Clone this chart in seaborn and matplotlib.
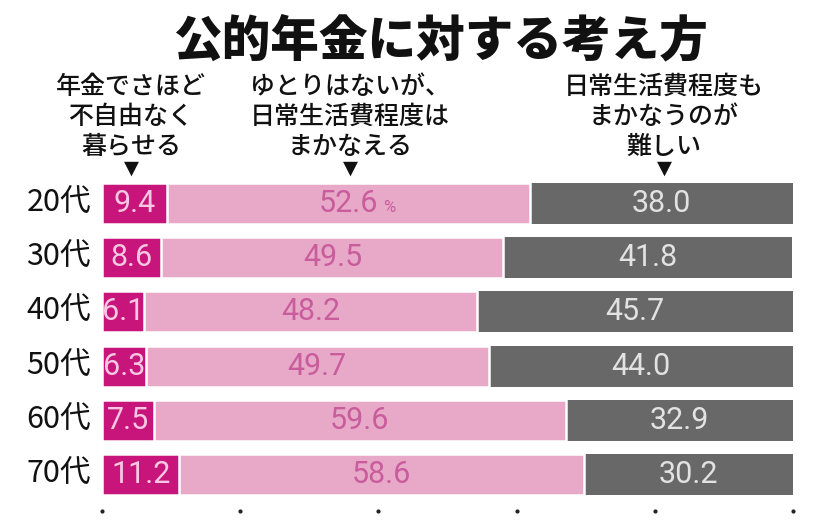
import numpy as np
import pandas as pd
import seaborn as sns
import matplotlib.pyplot as plt

sns.set_style('white')
plt.rcParams['font.family'] = ['Noto Sans CJK JP', 'DejaVu Sans']

# 公的年金に対する考え方（年代別、%）
ages = ['20代', '30代', '40代', '50代', '60代', '70代']
free = [9.4, 8.6, 6.1, 6.3, 7.5, 11.2]        # 年金でさほど不自由なく暮らせる
enough = [52.6, 49.5, 48.2, 49.7, 59.6, 58.6]  # ゆとりはないが、日常生活費程度はまかなえる
hard = [38.0, 41.8, 45.7, 44.0, 32.9, 30.2]    # 日常生活費程度もまかなうのが難しい
ticks = [0, 20, 40, 60, 80, 100]

headers = ['年金でさほど\n不自由なく\n暮らせる',
           'ゆとりはないが、\n日常生活費程度は\nまかなえる',
           '日常生活費程度も\nまかなうのが\n難しい']

c_free, c_enough, c_hard = '#c8157c', '#e8a9c9', '#686868'
num_font = ['Roboto', 'DejaVu Sans']

df = pd.DataFrame({'age': ages, 'free': free, 'enough': enough, 'hard': hard})
df['c1'] = df['free']
df['c2'] = df['free'] + df['enough']
df['c3'] = df['c2'] + df['hard']

W, H = 820, 522
fig = plt.figure(figsize=(W / 100, H / 100), dpi=100)
ax = fig.add_axes([102 / W, 1 - 501.6 / H, (793 - 102) / W, 325.2 / H])

# 積み上げを累積値で重ねて描く
sns.barplot(data=df, x='c3', y='age', orient='h', color=c_hard, width=0.76,
            saturation=1, edgecolor='white', linewidth=0, ax=ax)
sns.barplot(data=df, x='c2', y='age', orient='h', color=c_enough, width=0.76,
            saturation=1, edgecolor='white', linewidth=1.8, ax=ax)
sns.barplot(data=df, x='c1', y='age', orient='h', color=c_free, width=0.76,
            saturation=1, edgecolor='white', linewidth=1.8, ax=ax)

ax.set_xlim(0, 100)
ax.set_ylim(5.5, -0.5)
ax.set_xlabel('')
ax.set_ylabel('')
ax.set_xticks([])
ax.set_yticks([])
sns.despine(ax=ax, left=True, bottom=True)

for i, row in df.iterrows():
    ax.text(row['free'] / 2, i, f"{row['free']:.1f}", ha='center', va='center',
            fontsize=22, color='#f8c8e2', family=num_font)
    mid = row['free'] + row['enough'] / 2
    ax.text(mid, i, f"{row['enough']:.1f}", ha='center', va='center',
            fontsize=22, color='#c95c9c', family=num_font)
    if i == 0:
        ax.text(mid + 5.0, i + 0.07, '%', ha='left', va='center',
                fontsize=12, color='#c95c9c', family=num_font)
    ax.text(row['c2'] + row['hard'] / 2, i, f"{row['hard']:.1f}", ha='center', va='center',
            fontsize=22, color='#e2e2e2', family=num_font)
    ax.text(-1.6, i, row['age'], ha='right', va='center', fontsize=22,
            color='#111111', clip_on=False)

# 目盛りの点
ax.plot(ticks, [5.68] * len(ticks), 'o', color='#222222', markersize=2,
        clip_on=False)

def fx(px):
    return px / W

def fy(py):
    return 1 - py / H

fig.text(fx(440), fy(41), '公的年金に対する考え方', ha='center', va='center',
         fontsize=35, fontweight='heavy', color='#111111')

for x, txt in zip([131, 350, 664], headers):
    fig.text(fx(x), fy(117), txt, ha='center', va='center', fontsize=18,
             fontweight='medium', linespacing=1.2, color='#111111')
    fig.text(fx(x), fy(168), '▼', ha='center', va='center', fontsize=14,
             color='#111111', family=['DejaVu Sans'])

fig.savefig('out.png', dpi=100)
